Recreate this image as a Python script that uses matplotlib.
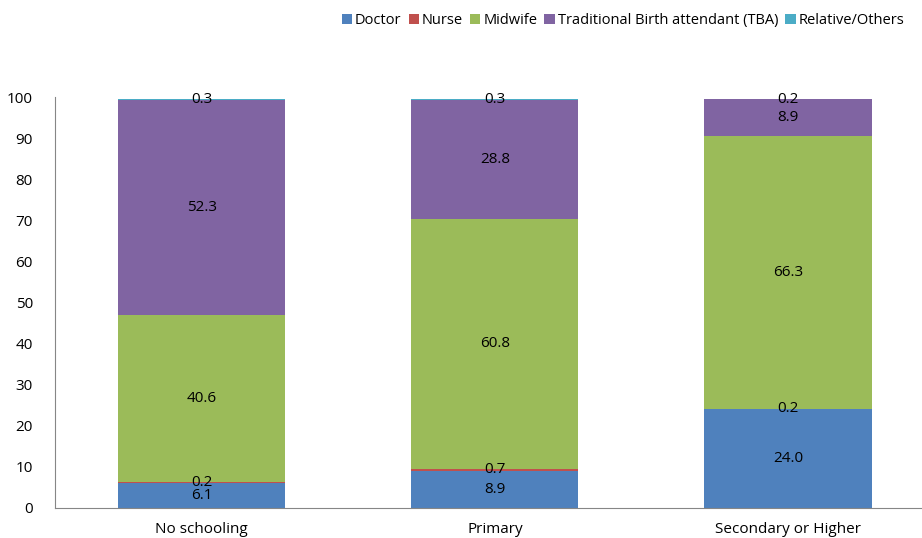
import matplotlib.pyplot as plt
import numpy as np

plt.rcParams['font.family'] = ['Open Sans', 'DejaVu Sans']

categories = ['No schooling', 'Primary', 'Secondary or Higher']
series = ['Doctor', 'Nurse', 'Midwife', 'Traditional Birth attendant (TBA)', 'Relative/Others']
doctor = [6.1, 8.9, 24.0]
nurse = [0.2, 0.7, 0.2]
midwife = [40.6, 60.8, 66.3]
tba = [52.3, 28.8, 8.9]
relative = [0.3, 0.3, 0.2]

colors = ['#4F81BD', '#C0504D', '#9BBB59', '#8064A2', '#4BACC6']

fig = plt.figure(figsize=(9.22, 5.38), dpi=100)
ax = fig.add_axes([0.0597, 0.0558, 0.954, 0.7639])

x = np.arange(len(categories))
bottom = np.zeros(len(categories))
for name, vals, col in zip(series, [doctor, nurse, midwife, tba, relative], colors):
    vals = np.array(vals)
    ax.bar(x, vals, 0.57, bottom=bottom, color=col, label=name)
    # value labels sit in the middle of each segment
    for xi, b, v in zip(x, bottom, vals):
        ax.text(xi, b + v / 2, f'{v:.1f}', ha='center', va='center', fontsize=11, color='black')
    bottom += vals

ax.set_xlim(-0.5, 2.5)
ax.set_ylim(0, 100)
ax.set_yticks(range(0, 101, 10))
ax.set_xticks(x)
ax.set_xticklabels(categories)
ax.tick_params(axis='both', length=0, labelsize=11)
ax.tick_params(axis='y', pad=16)
ax.tick_params(axis='x', pad=10)
for s in ['top', 'right']:
    ax.spines[s].set_visible(False)
for s in ['left', 'bottom']:
    ax.spines[s].set_color('#868686')

fig.legend(loc='upper right', bbox_to_anchor=(0.995, 1.0), ncol=5, frameon=False,
           fontsize=10.5, handlelength=0.7, handleheight=0.7, handletextpad=0.2,
           columnspacing=0.5)

plt.savefig('out.png', dpi=100)
